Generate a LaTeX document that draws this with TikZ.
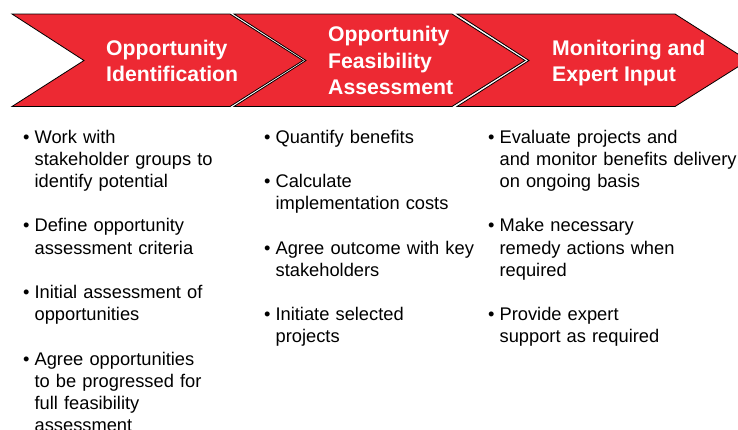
\documentclass[tikz,border=0pt]{standalone}
\usepackage{fontspec}
\setmainfont{Liberation Sans}
\usepackage{tikz}

\definecolor{stagered}{RGB}{237,41,51}

\tikzset{
  stage/.style={fill=stagered, draw=black, line width=0.8pt, line join=miter},
  stagetext/.style={anchor=base west, text=white, align=left, inner sep=0pt,
    font=\fontsize{21.2}{26.3}\selectfont\bfseries},
  point/.style={anchor=base west, text width=320pt, align=left, inner sep=0pt,
    font=\fontsize{18.3}{22.2}\selectfont,
    execute at begin node={\parindent=0pt\leftskip=11.4pt\hyphenpenalty=10000\leavevmode\llap{\makebox[11.4pt][l]{\textbullet}}}}
}

\begin{document}
\begin{tikzpicture}[x=1pt, y=-1pt]
\useasboundingbox (0,0) rectangle (738,429);

% the three stages
\draw [stage] (12,14)--(230,14)--(303,60.5)--(230,106.5)--(12,106.5)--(84,60.5)--cycle;
\draw [stage] (234,14)--(452,14)--(525,60.5)--(452,106.5)--(234,106.5)--(306,60.5)--cycle;
\draw [stage] (457,14)--(675,14)--(748,60.5)--(675,106.5)--(457,106.5)--(529,60.5)--cycle;

% stage titles (base = last line)
\node [stagetext] (ident) at (106,81.7) {Opportunity\\Identification};
\node [stagetext] (feas) at (328,94.3) {Opportunity\\Feasibility\\Assessment};
\node [stagetext] (monit) at (552,81.7) {Monitoring and\\Expert Input};

% tasks under each stage
\node [point] (ident1) at (23,143) {Work with\\stakeholder groups to\\identify potential};
\node [point] (ident2) at (23,231.8) {Define opportunity\\assessment criteria};
\node [point] (ident3) at (23,298.4) {Initial assessment of\\opportunities};
\node [point] (ident4) at (23,365) {Agree opportunities\\to be progressed for\\full feasibility\\assessment};

\node [point] (feas1) at (264,143) {Quantify benefits};
\node [point] (feas2) at (264,187.4) {Calculate\\implementation costs};
\node [point] (feas3) at (264,254) {Agree outcome with key\\stakeholders};
\node [point] (feas4) at (264,320.6) {Initiate selected\\projects};

\node [point] (monit1) at (488,143) {Evaluate projects and\\and monitor benefits delivery\\on ongoing basis};
\node [point] (monit2) at (488,231.8) {Make necessary\\remedy actions when\\required};
\node [point] (monit3) at (488,320.6) {Provide expert\\support as required};
\end{tikzpicture}
\end{document}
